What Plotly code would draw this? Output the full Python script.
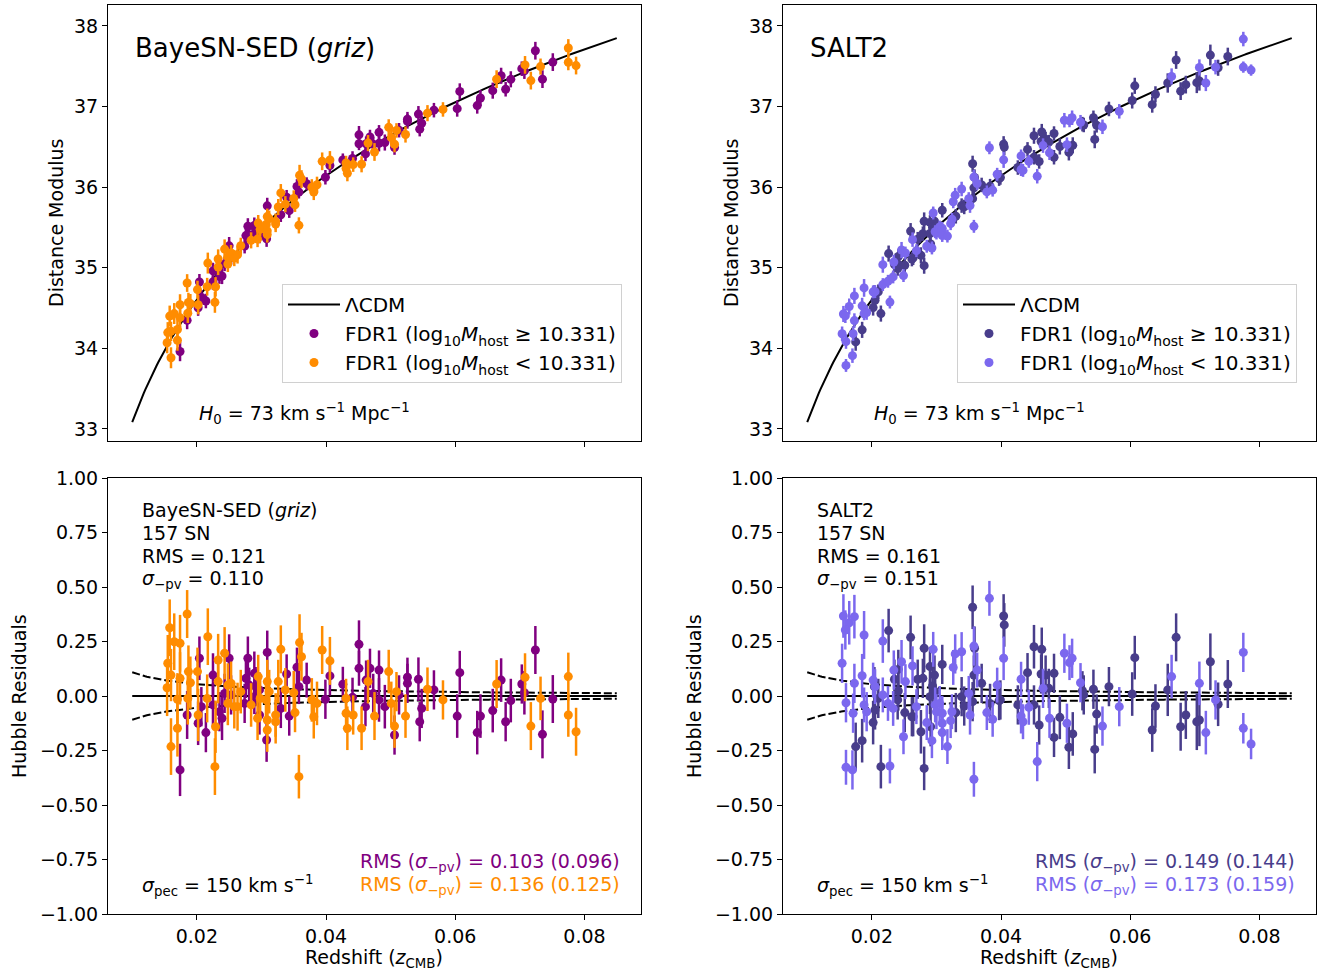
import numpy as np
import plotly.graph_objects as go
from plotly.subplots import make_subplots

# ---------------- data ----------------
# BayeSN-SED: high host mass (purple)
bs_hi_z = [0.0204,0.0225,0.0250,0.0207,0.0225,0.0243,0.0253,0.0185,0.0202,0.0214,0.0235,0.0239,0.0174,
           0.0309,0.0279,0.0339,0.0355,0.0370,0.0358,0.0276,0.0281,0.0291,0.0289,0.0297,0.0289,0.0274,0.0330,0.0343,0.0297,0.0308,0.0399,
           0.0451,0.0451,0.0468,0.0482,0.0406,0.0426,0.0462,0.0441,0.0461,0.0473,0.0482,0.0491,0.0526,0.0526,0.0543,0.0513,0.0548,0.0545,0.0506,0.0567,0.0607,0.0603,
           0.0724,0.0671,0.0703,0.0707,0.0686,0.0658,0.0639,0.0634,0.0678,0.0751,0.0735]
bs_hi_r = [0.173,0.096,0.173,-0.049,-0.041,0.012,0.005,-0.087,-0.125,-0.168,-0.072,-0.102,-0.339,
           0.200,0.173,0.101,0.132,0.073,0.043,0.081,0.050,0.043,0.104,0.028,-0.003,-0.034,-0.057,-0.092,-0.087,-0.202,-0.015,
           0.237,0.127,0.127,0.119,0.092,0.054,0.073,-0.006,-0.049,0.012,-0.018,-0.049,0.086,0.058,0.077,0.005,-0.057,-0.118,-0.179,0.028,0.107,-0.092,
           0.211,0.073,0.055,0.015,-0.021,-0.067,-0.092,-0.168,-0.118,-0.014,-0.176]
bs_hi_e = [0.10,0.10,0.11,0.09,0.10,0.09,0.09,0.11,0.10,0.09,0.09,0.10,0.12,
           0.10,0.10,0.09,0.09,0.08,0.08,0.09,0.08,0.09,0.10,0.08,0.08,0.09,0.09,0.09,0.09,0.10,0.09,
           0.11,0.08,0.09,0.09,0.09,0.08,0.09,0.09,0.09,0.09,0.10,0.10,0.09,0.09,0.10,0.09,0.09,0.09,0.09,0.09,0.10,0.10,
           0.11,0.10,0.09,0.10,0.10,0.10,0.10,0.10,0.09,0.11,0.11]

# BayeSN-SED: low host mass (orange)
bs_lo_z = [0.0185,0.0158,0.0165,0.0174,0.0217,0.0155,0.0160,0.0154,0.0174,0.0187,0.0201,0.0190,0.0170,0.0186,0.0216,0.0202,0.0170,0.0160,0.0229,0.0228,0.0233,0.0243,0.0233,0.0248,0.0253,0.0248,0.0258,
           0.0330,0.0359,0.0362,0.0394,0.0268,0.0263,0.0284,0.0295,0.0309,0.0312,0.0326,0.0337,0.0350,0.0298,0.0307,0.0294,0.0309,0.0322,0.0322,0.0309,0.0352,0.0378,0.0386,0.0381,0.0358,
           0.0406,0.0465,0.0497,0.0509,0.0501,0.0431,0.0431,0.0442,0.0433,0.0455,0.0475,0.0506,0.0523,0.0557,0.0581,
           0.0664,0.0708,0.0732,0.0717,0.0775,0.0775,0.0787]
bs_lo_r = [0.376,0.313,0.249,0.242,0.272,0.150,0.096,0.038,0.081,0.112,0.112,0.061,-0.015,-0.011,-0.011,-0.087,-0.148,-0.232,-0.141,-0.324,0.165,0.196,0.066,0.050,0.058,-0.034,-0.049,
           0.214,0.245,0.180,0.211,0.020,-0.049,-0.041,0.089,0.066,0.020,0.066,0.028,0.015,-0.011,-0.018,-0.102,-0.110,-0.118,-0.087,-0.156,-0.076,-0.018,-0.034,-0.095,-0.370,
           0.161,0.066,0.112,0.020,-0.034,-0.011,-0.079,-0.087,-0.148,-0.148,-0.092,-0.138,-0.092,0.031,-0.018,
           0.055,0.086,-0.011,-0.138,0.089,-0.087,-0.164]
bs_lo_e = [0.11,0.13,0.13,0.13,0.13,0.13,0.12,0.13,0.12,0.12,0.11,0.12,0.12,0.12,0.11,0.12,0.13,0.13,0.12,0.13,0.12,0.12,0.10,0.10,0.10,0.10,0.10,
           0.11,0.13,0.11,0.11,0.10,0.11,0.10,0.10,0.10,0.10,0.10,0.10,0.10,0.09,0.09,0.10,0.10,0.10,0.10,0.10,0.09,0.10,0.10,0.10,0.10,
           0.11,0.10,0.10,0.09,0.10,0.09,0.09,0.09,0.10,0.10,0.11,0.10,0.10,0.10,0.09,
           0.11,0.11,0.10,0.11,0.11,0.10,0.11]

# SALT2: high host mass (dark slate blue)
s2_hi_z = [0.0226,0.0260,0.0241,0.0235,0.0204,0.0210,0.0241,0.0240,0.0205,0.0202,0.0251,0.0262,0.0185,0.0175,0.0214,
           0.0356,0.0281,0.0290,0.0309,0.0359,0.0358,0.0370,0.0271,0.0279,0.0297,0.0294,0.0290,0.0298,0.0339,0.0343,0.0356,0.0383,0.0397,0.0404,0.0264,0.0276,0.0291,0.0330,0.0281,
           0.0405,0.0451,0.0463,0.0441,0.0462,0.0469,0.0482,0.0474,0.0399,0.0426,0.0451,0.0459,0.0491,0.0482,0.0511,0.0505,0.0526,0.0528,0.0543,0.0548,0.0545,0.0567,0.0603,0.0607,
           0.0671,0.0724,0.0751,0.0658,0.0639,0.0634,0.0678,0.0686,0.0703,0.0707,0.0736]
s2_hi_r = [0.300,0.269,0.122,0.077,0.043,-0.011,0.023,-0.018,-0.064,-0.122,-0.076,-0.095,-0.205,-0.232,-0.324,
           0.407,0.219,0.135,0.145,0.219,0.096,0.058,0.077,0.081,0.096,0.046,-0.003,0.020,-0.003,-0.046,-0.026,-0.034,-0.021,0.367,-0.095,-0.164,-0.141,-0.076,-0.332,
           0.326,0.226,0.214,0.107,0.101,0.096,0.104,0.035,-0.018,-0.041,-0.041,-0.133,-0.098,-0.190,-0.174,-0.235,0.024,0.005,0.031,-0.083,-0.245,0.043,0.009,0.176,
           0.269,0.157,0.055,0.028,-0.046,-0.156,-0.141,-0.087,-0.118,-0.110,-0.038]
s2_hi_e = [0.10,0.10,0.09,0.09,0.09,0.09,0.09,0.09,0.09,0.10,0.09,0.09,0.10,0.11,0.10,
           0.10,0.11,0.09,0.09,0.10,0.09,0.09,0.09,0.09,0.09,0.09,0.08,0.08,0.09,0.09,0.09,0.09,0.09,0.10,0.09,0.10,0.09,0.09,0.10,
           0.10,0.10,0.10,0.09,0.09,0.09,0.09,0.09,0.09,0.09,0.09,0.09,0.10,0.09,0.10,0.10,0.09,0.09,0.09,0.09,0.11,0.09,0.10,0.10,
           0.11,0.13,0.11,0.12,0.10,0.10,0.11,0.11,0.13,0.12,0.10]

# SALT2: low host mass (medium slate blue)
s2_lo_z = [0.0156,0.0165,0.0173,0.0159,0.0188,0.0154,0.0217,0.0173,0.0185,0.0202,0.0160,0.0171,0.0188,0.0192,0.0205,0.0217,0.0225,0.0233,0.0234,0.0246,0.0252,0.0249,0.0160,0.0170,0.0228,
           0.0382,0.0295,0.0329,0.0339,0.0326,0.0358,0.0363,0.0263,0.0404,0.0350,0.0394,0.0269,0.0298,0.0305,0.0300,0.0309,0.0324,0.0322,0.0309,0.0285,0.0309,0.0293,0.0317,0.0352,0.0378,0.0387,0.0358,
           0.0498,0.0506,0.0510,0.0431,0.0465,0.0523,0.0443,0.0431,0.0434,0.0475,0.0502,0.0557,0.0583,0.0456,
           0.0664,0.0707,0.0732,0.0717,0.0775,0.0775,0.0787]
s2_lo_r = [0.367,0.336,0.364,0.303,0.280,0.150,0.252,0.058,0.093,0.073,-0.031,-0.079,-0.041,-0.072,0.043,0.005,-0.034,-0.057,0.119,0.157,0.066,-0.187,-0.327,-0.339,-0.321,
           0.448,0.214,0.193,0.203,0.131,0.229,0.119,0.138,0.173,0.012,0.050,-0.049,-0.041,-0.034,-0.072,-0.079,-0.072,-0.113,-0.125,-0.122,-0.168,-0.205,-0.232,-0.087,-0.076,-0.107,-0.382,
           0.196,0.153,0.173,0.077,0.035,0.061,-0.052,-0.092,-0.118,-0.102,-0.125,-0.138,-0.049,-0.301,
           0.089,0.058,-0.018,-0.168,0.200,-0.148,-0.220]
s2_lo_e = [0.10,0.10,0.10,0.09,0.11,0.09,0.10,0.09,0.10,0.08,0.09,0.09,0.08,0.09,0.08,0.08,0.08,0.08,0.09,0.10,0.08,0.08,0.08,0.09,0.08,
           0.08,0.08,0.09,0.09,0.08,0.09,0.08,0.09,0.10,0.08,0.08,0.08,0.08,0.08,0.08,0.08,0.08,0.08,0.08,0.08,0.08,0.08,0.08,0.09,0.08,0.08,0.08,
           0.09,0.08,0.09,0.08,0.09,0.09,0.08,0.08,0.08,0.09,0.09,0.09,0.09,0.09,
           0.10,0.10,0.09,0.10,0.09,0.07,0.07]

H0 = 73.0
OM = 0.3
SIG_PEC = 150.0
C_KMS = 299792.458
Z_MIN, Z_MAX = 0.01, 0.085

# ---------------- helpers ----------------
def mu_lcdm(z):
    z = np.atleast_1d(np.asarray(z, dtype=float))
    out = []
    for zi in z:
        zz = np.linspace(0, zi, 400)
        integ = np.trapezoid(1.0 / np.sqrt(OM * (1 + zz) ** 3 + (1 - OM)), zz)
        dl = (1 + zi) * C_KMS / H0 * integ
        out.append(5 * np.log10(dl * 1e6 / 10))
    return np.array(out)

PURPLE = "#800080"
ORANGE = "#FF8C00"
DARK = "#483D8B"
LIGHT = "#7B68EE"
FONT = "DejaVu Sans"

fig = make_subplots(rows=2, cols=2)

zgrid = np.linspace(Z_MIN, Z_MAX, 300)
mugrid = mu_lcdm(zgrid)
sig = 5 / np.log(10) * (SIG_PEC / C_KMS) / zgrid

hi_label = "FDR1 (log<sub>10</sub><i>M</i><sub>host</sub> ≥ 10.331)"
lo_label = "FDR1 (log<sub>10</sub><i>M</i><sub>host</sub> < 10.331)"

panels = [
    (1, "legend", [(bs_hi_z, bs_hi_r, bs_hi_e, PURPLE, hi_label), (bs_lo_z, bs_lo_r, bs_lo_e, ORANGE, lo_label)]),
    (2, "legend2", [(s2_hi_z, s2_hi_r, s2_hi_e, DARK, hi_label), (s2_lo_z, s2_lo_r, s2_lo_e, LIGHT, lo_label)]),
]

for col, leg, groups in panels:
    fig.add_trace(go.Scatter(x=zgrid, y=mugrid, mode="lines", line=dict(color="black", width=2),
                             name="ΛCDM", legend=leg, showlegend=True), row=1, col=col)
    for z, r, e, colr, lab in groups:
        z = np.array(z); r = np.array(r); e = np.array(e)
        mu = mu_lcdm(z) + r
        common = dict(mode="markers", marker=dict(color=colr, size=9, line=dict(width=0)),
                      error_y=dict(type="data", array=e, visible=True, color=colr, thickness=2.5, width=0))
        fig.add_trace(go.Scatter(x=z, y=mu, name=lab, legend=leg, showlegend=True, **common), row=1, col=col)
    # residual panel lines
    fig.add_trace(go.Scatter(x=[Z_MIN, Z_MAX], y=[0, 0], mode="lines", line=dict(color="black", width=2),
                             showlegend=False), row=2, col=col)
    for s in (1, -1):
        fig.add_trace(go.Scatter(x=zgrid, y=s * sig, mode="lines",
                                 line=dict(color="black", width=2, dash="8px,3px"), showlegend=False), row=2, col=col)
    for z, r, e, colr, lab in groups:
        fig.add_trace(go.Scatter(x=z, y=r, mode="markers", showlegend=False,
                                 marker=dict(color=colr, size=9, line=dict(width=0)),
                                 error_y=dict(type="data", array=e, visible=True, color=colr, thickness=2.5, width=0)),
                      row=2, col=col)

W, H = 1321, 973
def px(x): return x / W
def py(y): return 1 - y / H

xdom = [(px(108), px(641)), (px(783), px(1316))]
ydom_top = (py(441), py(5))
ydom_bot = (py(914), py(478))

axis_common = dict(showline=True, mirror=True, linecolor="black", linewidth=1, ticks="outside",
                   ticklen=5, tickwidth=1, tickcolor="black", showgrid=False, zeroline=False, automargin=False,
                   tickfont=dict(family=FONT, size=19, color="black"))
xr = [0.00625, 0.08875]
xt = [0.02, 0.04, 0.06, 0.08]
ytb = [-1.0, -0.75, -0.5, -0.25, 0.0, 0.25, 0.5, 0.75, 1.0]
ytb_txt = [("−" if v < 0 else "") + f"{abs(v):.2f}" for v in ytb]

layout_axes = {}
names = {(1, 1): ("xaxis", "yaxis"), (1, 2): ("xaxis2", "yaxis2"), (2, 1): ("xaxis3", "yaxis3"), (2, 2): ("xaxis4", "yaxis4")}
for (row, col), (xa, ya) in names.items():
    layout_axes[xa] = dict(domain=xdom[col - 1], range=xr, tickvals=xt, ticktext=["0.02", "0.04", "0.06", "0.08"],
                           showticklabels=(row == 2), **axis_common)
    if row == 1:
        layout_axes[ya] = dict(domain=ydom_top, range=[32.85, 38.26], tickvals=[33, 34, 35, 36, 37, 38], **axis_common)
    else:
        layout_axes[ya] = dict(domain=ydom_bot, range=[-1, 1], tickvals=ytb, ticktext=ytb_txt, **axis_common)

legend_common = dict(font=dict(family=FONT, size=20, color="black"), bgcolor="rgba(255,255,255,0.85)",
                     bordercolor="#d0d0d0", borderwidth=1, xanchor="left", yanchor="top", tracegroupgap=0,
                     itemwidth=52)

fig.update_layout(width=W, height=H, autosize=False,
                  margin=dict(l=0, r=0, t=0, b=0, pad=0, autoexpand=False),
                  plot_bgcolor="white", paper_bgcolor="white",
                  font=dict(family=FONT, size=19, color="black"),
                  legend=dict(x=px(282), y=py(284), **legend_common),
                  legend2=dict(x=px(957), y=py(284), **legend_common),
                  **layout_axes)

ann = []
def txt(x, y, s, size=19, color="black", xanchor="left", angle=0):
    ann.append(dict(x=px(x), y=py(y), xref="paper", yref="paper", text=s, showarrow=False,
                    xanchor=xanchor, yanchor="middle", textangle=angle,
                    font=dict(family=FONT, size=size, color=color)))

for off, name, rms, spv, c1, c2, r1, r2 in [
        (0, "BayeSN-SED (<i>griz</i>)", "0.121", "0.110", PURPLE, ORANGE, "0.103 (0.096)", "0.136 (0.125)"),
        (675, "SALT2", "0.161", "0.151", DARK, LIGHT, "0.149 (0.144)", "0.173 (0.159)")]:
    txt(133 + off, 48, name, size=26)
    txt(197 + off, 413, "<i>H</i><sub>0</sub> = 73 km s<sup>−1</sup> Mpc<sup>−1</sup>")
    txt(140 + off, 510, name)
    txt(140 + off, 533, "157 SN")
    txt(140 + off, 556, "RMS = " + rms)
    txt(140 + off, 579, "<i>σ</i><sub>−pv</sub> = " + spv)
    txt(140 + off, 885, "<i>σ</i><sub>pec</sub> = 150 km s<sup>−1</sup>")
    txt(622 + off, 862, "RMS (<i>σ</i><sub>−pv</sub>) = " + r1, color=c1, xanchor="right")
    txt(622 + off, 885, "RMS (<i>σ</i><sub>−pv</sub>) = " + r2, color=c2, xanchor="right")
    txt(56 + off, 223, "Distance Modulus", xanchor="center", angle=-90)
    txt(19 + off, 696, "Hubble Residuals", xanchor="center", angle=-90)
    txt(374 + off, 958, "Redshift (<i>z</i><sub>CMB</sub>)", xanchor="center")

fig.update_layout(annotations=ann)
fig.write_html("out.html", config={"displayModeBar": False},
               post_script="document.body.style.margin='0px';")
